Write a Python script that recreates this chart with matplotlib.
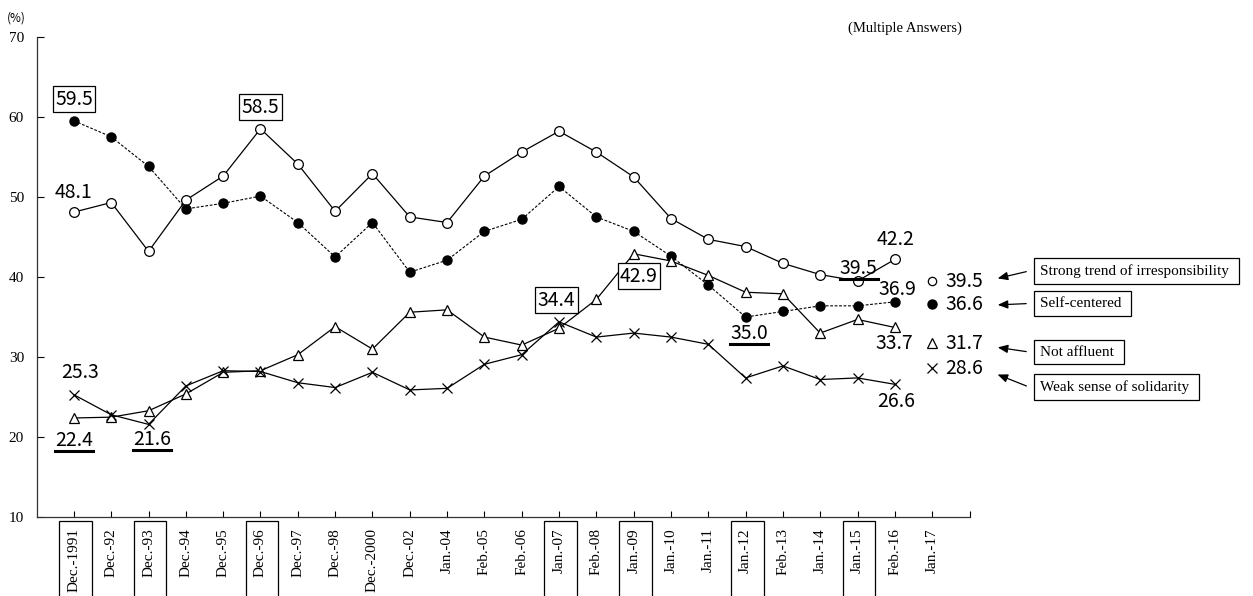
import matplotlib
matplotlib.use('Agg')
import matplotlib.pyplot as plt
from matplotlib.patches import Rectangle, FancyArrowPatch
from matplotlib.lines import Line2D
from matplotlib.transforms import IdentityTransform, blended_transform_factory

periods = ['Dec.-1991', 'Dec.-92', 'Dec.-93', 'Dec.-94', 'Dec.-95', 'Dec.-96',
           'Dec.-97', 'Dec.-98', 'Dec.-2000', 'Dec.-02', 'Jan.-04', 'Feb.-05',
           'Feb.-06', 'Jan.-07', 'Feb.-08', 'Jan.-09', 'Jan.-10', 'Jan.-11',
           'Jan.-12', 'Feb.-13', 'Jan.-14', 'Jan.-15', 'Feb.-16', 'Jan.-17']

# Dec.-1991 .. Feb.-16
irresponsible = [48.1, 49.3, 43.2, 49.6, 52.6, 58.5, 54.1, 48.2, 52.9, 47.5, 46.8, 52.6,
                 55.6, 58.2, 55.6, 52.5, 47.3, 44.7, 43.8, 41.7, 40.3, 39.5, 42.2]
self_centered = [59.5, 57.5, 53.8, 48.5, 49.2, 50.1, 46.8, 42.5, 46.8, 40.6, 42.1, 45.7,
                 47.2, 51.3, 47.5, 45.7, 42.6, 39.0, 35.0, 35.7, 36.4, 36.4, 36.9]
not_affluent = [22.4, 22.5, 23.3, 25.4, 28.1, 28.3, 30.3, 33.8, 31.0, 35.6, 35.9, 32.5,
                31.5, 33.6, 37.2, 42.9, 42.0, 40.2, 38.1, 37.9, 33.0, 34.7, 33.7]
weak_solidarity = [25.3, 22.8, 21.6, 26.4, 28.3, 28.2, 26.8, 26.2, 28.1, 25.9, 26.1, 29.1,
                   30.3, 34.4, 32.5, 33.0, 32.5, 31.6, 27.4, 28.9, 27.2, 27.4, 26.6]

# Jan.-17 (latest survey)
latest = [39.5, 36.6, 31.7, 28.6]
names = ['Strong trend of irresponsibility', 'Self-centered', 'Not affluent',
         'Weak sense of solidarity']

boxed_ticks = ['Dec.-1991', 'Dec.-93', 'Dec.-96', 'Jan.-07', 'Jan.-09', 'Jan.-12', 'Jan.-15']

W, H = 1253, 596
SERIF = 'Liberation Serif'
NUM = ['Noto Sans CJK JP', 'DejaVu Sans']


def fx(px):
    return px / W


def fy(py):
    return 1 - py / H


def main():
    fig = plt.figure(figsize=(W / 100, H / 100), dpi=100)
    ax = fig.add_axes([fx(36.6), fy(517.3), fx(969.5) - fx(36.6), fy(36.7) - fy(517.3)])

    x = list(range(len(irresponsible)))
    ax.plot(x, irresponsible, color='black', lw=0.9, marker='o', ms=7,
            mfc='white', mec='black', mew=0.9)
    ax.plot(x, self_centered, color='black', lw=0.8, ls=(0, (2.5, 1.5)), marker='o', ms=6.5,
            mfc='black', mec='black')
    ax.plot(x, not_affluent, color='black', lw=0.9, marker='^', ms=7.5,
            mfc='white', mec='black', mew=0.9)
    ax.plot(x, weak_solidarity, color='black', lw=0.9, marker='x', ms=7.5,
            mec='black', mew=0.9)

    # latest values, markers only
    n = len(periods) - 1
    ax.plot([n], [latest[0]], ls='none', marker='o', ms=6, mfc='white', mec='black', mew=0.9)
    ax.plot([n], [latest[1]], ls='none', marker='o', ms=6.5, mfc='black', mec='black')
    ax.plot([n], [latest[2]], ls='none', marker='^', ms=6.5, mfc='white', mec='black', mew=0.9)
    ax.plot([n], [latest[3]], ls='none', marker='x', ms=7, mec='black', mew=0.9)
    for v in latest:
        ax.text(n + 0.36, v, f'{v:.1f}', ha='left', va='center', fontsize=14, family=NUM)

    ax.set_xlim(-1, len(periods))
    ax.set_ylim(10, 70)
    ax.set_yticks(range(10, 71, 10))
    ax.set_xticks(range(len(periods) + 1))
    ax.set_xticklabels(periods + [''], rotation=90, fontsize=11, family=SERIF)
    for lab in ax.get_yticklabels():
        lab.set_family(SERIF)
        lab.set_fontsize(11)
    ax.tick_params(axis='x', direction='in', length=4, width=0.8, pad=8)
    ax.tick_params(axis='y', direction='in', length=5, width=0.8, pad=9)
    for s in ['top', 'right']:
        ax.spines[s].set_visible(False)
    for s in ['left', 'bottom']:
        ax.spines[s].set_linewidth(0.9)
        ax.spines[s].set_color('#333333')

    # boxes around some tick labels
    trans = blended_transform_factory(ax.transData, fig.transFigure)
    for i, p in enumerate(periods):
        if p in boxed_ticks:
            ax.add_patch(Rectangle((i - 0.40, fy(600)), 0.88, fy(521) - fy(600),
                                   transform=trans, fill=False, ec='black', lw=0.9,
                                   clip_on=False))

    box = dict(boxstyle='square,pad=0.12', fc='white', ec='black', lw=0.9)
    # (text, x, y, style)
    labels = [
        ('59.5', 0, 62.2, 'box'), ('48.1', 0, 50.5, ''), ('58.5', 5, 61.2, 'box'),
        ('25.3', 0.17, 28.1, ''), ('22.4', 0, 19.6, 'under'), ('21.6', 2.1, 19.7, 'under'),
        ('34.4', 12.93, 37.1, 'box'), ('42.9', 15.14, 40.1, 'box'),
        ('35.0', 18.1, 32.9, 'under'), ('42.2', 22.01, 44.7, ''),
        ('39.5', 21.03, 41.05, 'under'), ('36.9', 22.08, 38.4, ''),
        ('33.7', 21.99, 31.7, ''), ('26.6', 22.04, 24.5, ''),
    ]
    under = []
    for txt, tx, ty, style in labels:
        t = ax.text(tx, ty, txt, ha='center', va='center', fontsize=14, family=NUM,
                    bbox=box if style == 'box' else None, zorder=5)
        if style == 'under':
            under.append(t)

    # legend boxes with arrows
    legend_y = [271, 303.5, 352, 387]
    arrow_to = [279, 305, 347, 373.5]
    for name, ly, ay in zip(names, legend_y, arrow_to):
        fig.text(fx(1040), fy(ly), name + ' ', ha='left', va='center', fontsize=11,
                 family=SERIF,
                 bbox=dict(boxstyle='square,pad=0.38', fc='white', ec='black', lw=0.9))
        fig.add_artist(FancyArrowPatch(
            (fx(1029), fy(ly)), (fx(995), fy(ay)), transform=fig.transFigure,
            arrowstyle='-|>,head_length=6,head_width=2.5', color='black', lw=0.9))

    fig.text(fx(16), fy(18), '(%)', ha='center', va='center', fontsize=8.5, family=NUM)
    fig.text(fx(905), fy(28), '(Multiple Answers)', ha='center', va='center',
             fontsize=10.5, family=SERIF)

    fig.canvas.draw()
    r = fig.canvas.get_renderer()
    for t in under:
        bb = t.get_window_extent(r)
        fig.add_artist(Line2D([bb.x0, bb.x1], [bb.y0, bb.y0],
                              transform=IdentityTransform(), color='black', lw=2.2))

    fig.savefig('out.png', dpi=100)


if __name__ == '__main__':
    main()
